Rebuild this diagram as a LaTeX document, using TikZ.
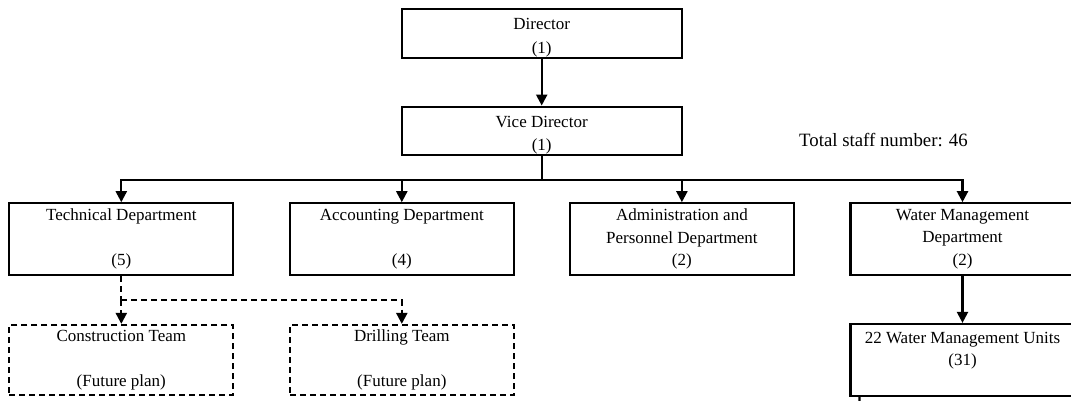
\documentclass[tikz,border=0pt]{standalone}
\usepackage{fontspec}
\setmainfont{Liberation Serif}
\usetikzlibrary{arrows.meta}
\tikzset{
  box/.style={draw, line width=2.2pt, rectangle, inner sep=0pt, align=center,
    font=\fontsize{17}{22.5}\selectfont, minimum width=224pt, minimum height=71.7pt},
  topbox/.style={box, minimum width=280pt, minimum height=48.4pt},
  planbox/.style={box, dash pattern=on 6pt off 4pt, minimum height=70pt},
  conn/.style={line width=2.2pt},
  arr/.style={conn, -{Triangle[length=11pt,width=11pt]}},
  darr/.style={arr, dash pattern=on 6pt off 4pt},
}
\begin{document}
\begin{tikzpicture}[x=1pt,y=-1pt]
\clip (0,0) rectangle (1071,401);
\fill[white] (0,0) rectangle (1071,401);

\node[topbox] (dir) at (541.7,33.5) {\rule{0pt}{20pt}Director\\[1pt](1)};
\node[topbox] (vd) at (541.7,130.85) {\rule{0pt}{20pt}Vice Director\\[1pt](1)};

\node[box] (tech) at (121.3,239.15) {Technical Department\\\mbox{}\\(5)};
\node[box] (acc) at (401.8,239.15) {Accounting Department\\\mbox{}\\(4)};
\node[box] (adm) at (681.9,239.15) {Administration and\\Personnel Department\\(2)};
\node[box] (wmd) at (962.5,239.15) {Water Management\\Department\\(2)};

\node[planbox] (cons) at (121.3,360) {Construction Team\\\mbox{}\\(Future plan)};
\node[planbox] (drill) at (401.8,360) {Drilling Team\\\mbox{}\\(Future plan)};
\node[box, minimum height=72pt] (wmu) at (962.5,360) {22 Water Management Units\\(31)\\\mbox{}};

\node[font=\fontsize{18.8}{22}\selectfont] (total) at (883.5,140) {Total staff number: 46};

\draw[arr] (dir.south) -- (vd.north);
\draw[conn] (vd.south) -- ++(0,24) coordinate (bus);
\draw[arr] (bus) -| (tech.north);
\draw[arr] (bus) -| (acc.north);
\draw[arr] (bus) -| (adm.north);
\draw[arr] (bus) -| (wmd.north);

\draw[conn, dash pattern=on 6pt off 4pt] (tech.south) -- ++(0,24) coordinate (dbus);
\draw[darr] (dbus) -- (cons.north);
\draw[darr] (dbus) -| (drill.north);

\draw[arr] (wmd.south) -- (wmu.north);

\coordinate (cut) at (860,410);
\draw[conn] ([xshift=10pt]wmu.south west) -- (cut);
\end{tikzpicture}
\end{document}
